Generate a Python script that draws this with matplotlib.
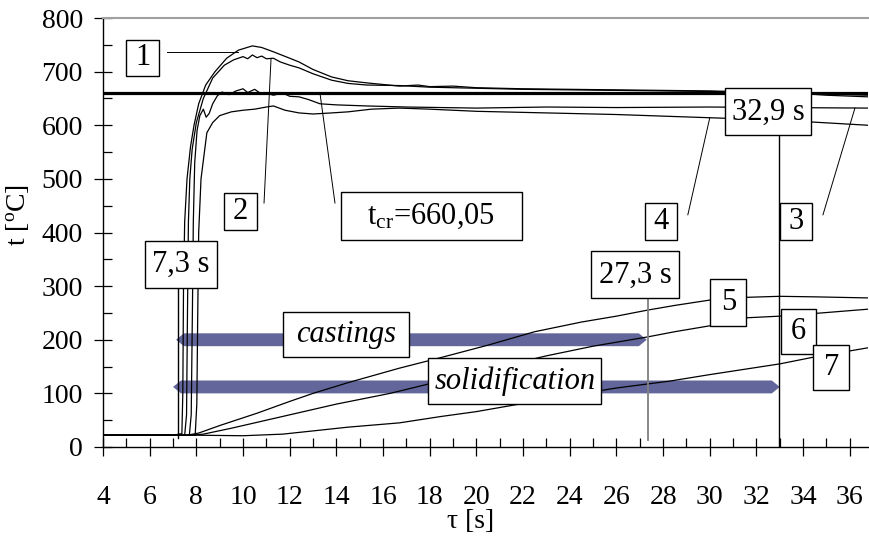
import matplotlib
matplotlib.use("Agg")
import matplotlib.pyplot as plt
from matplotlib.patches import Polygon, Rectangle
from matplotlib.transforms import IdentityTransform
from matplotlib.ticker import MultipleLocator

plt.rcParams['font.family'] = ['Liberation Serif', 'DejaVu Serif']
plt.rcParams['mathtext.fontset'] = 'custom'
plt.rcParams['mathtext.rm'] = 'Liberation Serif'
plt.rcParams['mathtext.it'] = 'Liberation Serif:italic'

# ---------------- data ----------------
c1_t = [4, 7.0, 7.38, 7.42, 7.45, 7.5, 7.6, 7.75, 7.9, 8.1, 8.4, 8.8, 9.3, 9.8, 10.4, 10.8, 11.3, 12.0, 12.4,
        13.0, 13.8, 14.5, 15.3, 16.0, 16.7, 17.5, 18, 19, 20, 22, 24, 26, 28, 30, 32, 33, 34, 35, 36.78]
c1_v = [22, 22, 25, 100, 300, 420, 500, 560, 600, 640, 675, 700, 725, 740, 748, 745, 737, 725, 718,
        704, 690, 683, 679, 676, 673, 675, 672, 673, 670, 668, 667, 666, 665, 664, 662, 660, 659, 656, 653]

c2_t = [4, 7.5, 7.58, 7.62, 7.66, 7.72, 7.82, 8.0, 8.3, 8.7, 9.2, 9.6, 10.0, 10.2, 10.4, 10.6, 10.8, 11.0,
        11.3, 11.6, 12.0, 12.4, 13.0, 13.8, 14.5, 15.3, 16.7, 18, 20, 22, 24, 26, 28, 30, 32, 34, 36.78]
c2_v = [22, 22, 60, 250, 420, 500, 555, 605, 650, 688, 712, 722, 728, 724, 731, 726, 729, 724,
        725, 718, 712, 707, 696, 684, 678, 675, 674, 671, 669, 667, 666, 665, 664, 663, 661, 659, 656]

c3_t = [4, 7.7, 7.78, 7.83, 7.87, 7.93, 8.03, 8.15, 8.3, 8.42, 8.55, 8.7, 8.9, 9.1, 9.4, 9.7, 10.0, 10.2,
        10.5, 10.8, 11.0, 11.3, 11.7, 12.0, 12.4, 12.8, 13.3, 14, 15.3, 17, 20, 23, 26, 30, 33, 36.78]
c3_v = [22, 22, 60, 250, 420, 530, 590, 618, 630, 615, 622, 640, 655, 662, 657, 664, 668, 661,
        667, 658, 660, 656, 660, 654, 653, 648, 640, 638, 636, 634, 632, 634, 633, 634, 633, 632]

c4_t = [4, 7.95, 8.02, 8.06, 8.1, 8.2, 8.45, 8.7, 9.0, 9.5, 10.0, 10.5, 11.0, 11.3, 11.8, 12.4, 13.0,
        13.8, 14.5, 15.5, 16.7, 18, 20, 23, 26, 28, 30, 32, 34, 36.78]
c4_v = [22, 22, 80, 250, 400, 500, 586, 605, 618, 625, 628, 630, 634, 636, 628, 623, 621,
        623, 625, 630, 632, 630, 626, 623, 620, 617, 614, 611, 607, 600]

c5_t = [4, 7.6, 8.1, 9, 10.6, 12.0, 13.0, 14.5, 16.7, 18.5, 20.5, 22.5, 24.5, 26, 27.3, 28.5, 30, 31.5,
        33, 34.5, 36.78]
c5_v = [22, 22, 26, 40, 63, 85, 100, 120, 147, 167, 190, 215, 233, 244, 255, 264, 274, 279,
        281, 280, 278]

c6_t = [4, 7.8, 8.3, 9.5, 10.5, 12.0, 14, 16.3, 18, 20, 23, 25, 27.3, 28.5, 30, 31.6, 33, 34.5, 36.78]
c6_v = [22, 22, 24, 35, 45, 60, 80, 100, 118, 139, 170, 188, 205, 215, 226, 241, 244, 249, 257]

c7_t = [4, 8, 10, 11.7, 13, 14.5, 16.7, 18.5, 20, 22.1, 24, 26, 28.3, 30, 31.5, 33, 34.5, 36.78]
c7_v = [22, 22, 21, 24, 30, 37, 45, 57, 66, 82, 96, 110, 123, 135, 145, 155, 168, 185]

t_cr = 660.05

# labelled boxes
box_text = ['1', '2', r't$_{\mathrm{cr}}$=660,05', '7,3 s', 'castings', 'solidification',
            '27,3 s', '5', '6', '7', '4', '3', '32,9 s']
box_x = [5.71, 9.89, 18.06, 7.33, 14.4, 21.65, 26.8, 30.8, 33.8, 35.2, 27.9, 33.7, 32.5]
box_y = [726, 440, 431, 340, 209, 123, 321, 269, 215, 149, 420, 420, 625]
box_italic = [False, False, False, False, True, True, False, False, False, False, False, False, False]
# box sizes in pixels (style)
box_w = [33, 33, 181, 72, 126, 173, 88, 36, 35, 36, 32, 32, 86]
box_h = [36, 37, 48, 47, 45, 46, 47, 47, 45, 45, 37, 37, 47]

# leader lines (from box to curve)
lead_x0 = [6.74, 10.9, 13.94, 29.06, 34.85]
lead_y0 = [737, 455, 455, 433, 433]
lead_x1 = [9.78, 11.2, 13.3, 30.0, 36.22]
lead_y1 = [737, 724, 659, 614, 632]

# time markers (vertical lines)
mark_t = [7.2, 27.35, 32.95]
mark_lo = [17, 13, 0]
mark_hi = [340, 321, 625]
mark_col = ['black', '#808080', 'black']

# range arrows
arr_x0 = [7.13, 7.0]
arr_x1 = [27.3, 33.0]
arr_y = [200, 112]

# ---------------- figure ----------------
fig = plt.figure(figsize=(8.7, 5.39), dpi=100)
ax = fig.add_axes([103/870, 1-447/539, 765/870, 429/539])
ax.set_xlim(4, 36.78)
ax.set_ylim(0, 800)

arrow_col = '#62669a'
hl = 0.34
hw = 12
for x0, x1, y in zip(arr_x0, arr_x1, arr_y):
    poly = Polygon([(x0, y), (x0+hl, y+hw), (x1-hl, y+hw), (x1, y), (x1-hl, y-hw), (x0+hl, y-hw)],
                   closed=True, facecolor=arrow_col, edgecolor='none', zorder=2)
    ax.add_patch(poly)

ax.axhline(t_cr, color='black', lw=2.3, zorder=3)

for tt, vv in [(c1_t, c1_v), (c2_t, c2_v), (c3_t, c3_v), (c4_t, c4_v),
               (c5_t, c5_v), (c6_t, c6_v), (c7_t, c7_v)]:
    ax.plot(tt, vv, color='black', lw=0.9, zorder=4)

for t, lo, hi, c in zip(mark_t, mark_lo, mark_hi, mark_col):
    ax.plot([t, t], [lo, hi], color=c, lw=1.0 if c == 'black' else 1.3, zorder=5)

for x0, y0, x1, y1 in zip(lead_x0, lead_y0, lead_x1, lead_y1):
    ax.plot([x0, x1], [y0, y1], color='black', lw=0.7, zorder=5)

for s, x, y, it, w, h in zip(box_text, box_x, box_y, box_italic, box_w, box_h):
    cx, cy = ax.transData.transform((x, y))
    rect = Rectangle((cx - w / 2, cy - h / 2), w, h, transform=IdentityTransform(),
                     facecolor='white', edgecolor='black', lw=1.0, zorder=9, clip_on=False)
    ax.add_patch(rect)
    ax.text(x, y, s, ha='center', va='center', fontsize=22,
            style='italic' if it else 'normal', zorder=10)

# axes styling
ax.spines['right'].set_visible(False)
ax.spines['top'].set_color('#a0a0a0')
ax.spines['top'].set_linewidth(1.5)
ax.spines['left'].set_linewidth(1.0)
ax.spines['bottom'].set_linewidth(1.0)

ax.xaxis.set_major_locator(MultipleLocator(2))
ax.xaxis.set_minor_locator(MultipleLocator(1))
ax.yaxis.set_major_locator(MultipleLocator(100))
ax.yaxis.set_minor_locator(MultipleLocator(50))
ax.tick_params(which='major', direction='inout', length=13, width=0.9, labelsize=20)
ax.tick_params(which='minor', direction='in', length=6.5, width=0.9)
ax.tick_params(axis='x', which='major', pad=21)
ax.tick_params(axis='y', which='major', pad=8)

ax.set_ylabel(r't [$^{\mathrm{o}}$C]', fontsize=20)
ax.yaxis.set_label_coords(-0.094, 0.54)
ax.set_xlabel('τ [s]', fontsize=20)
ax.xaxis.set_label_coords(0.48, -0.145)

fig.savefig('out.png', dpi=100)
